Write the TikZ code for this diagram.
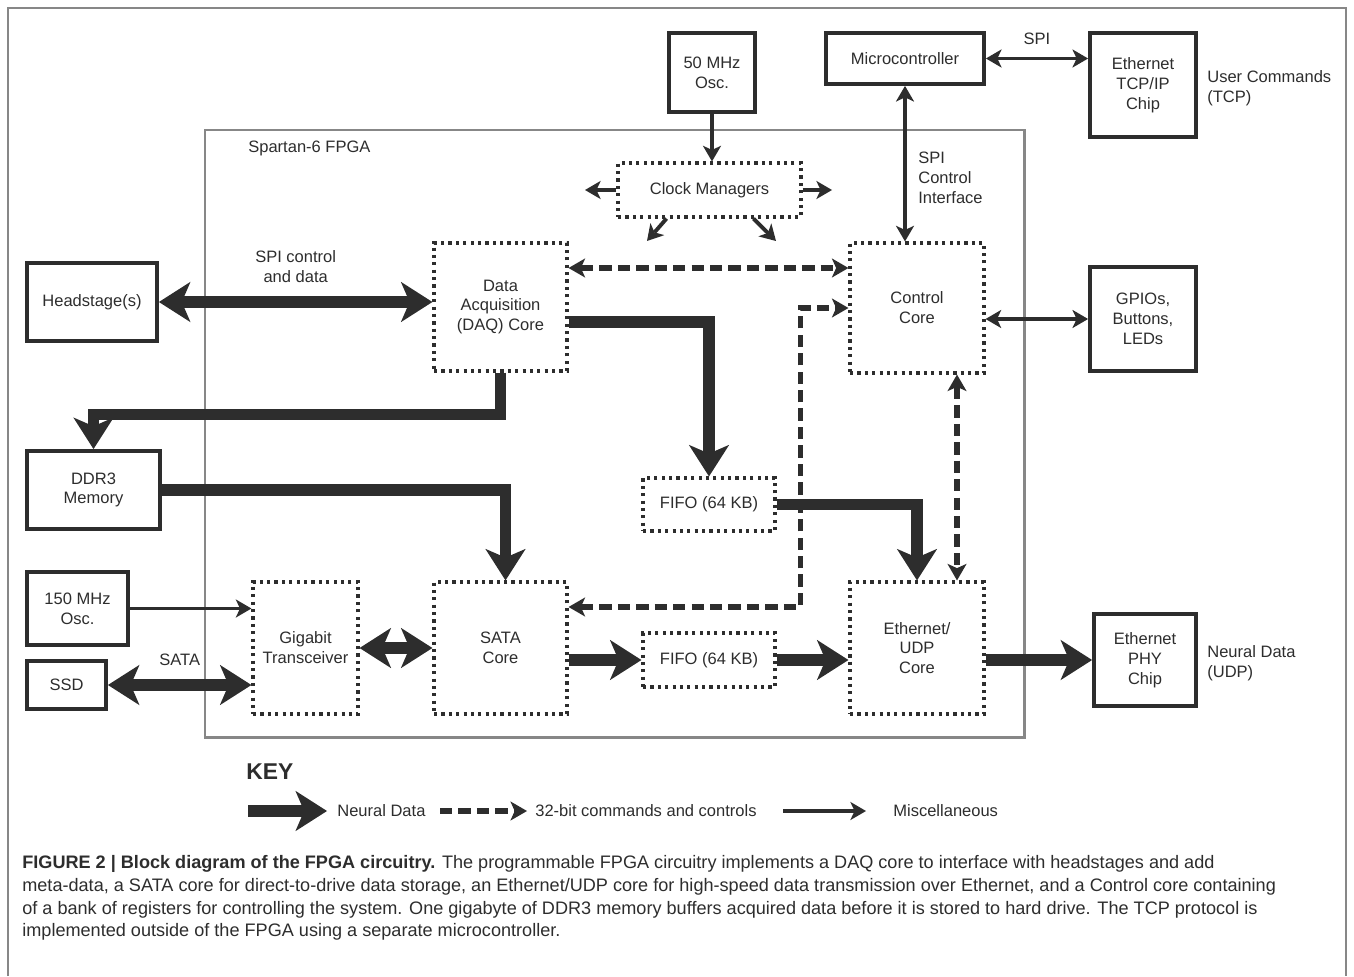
\documentclass[tikz,border=0pt]{standalone}
\usepackage{fontspec}
\setmainfont{Liberation Sans}
\usepackage{tikz}
\usetikzlibrary{arrows.meta,positioning,calc}
\definecolor{ink}{RGB}{45,45,45}
\definecolor{framegray}{RGB}{135,135,135}

\begin{document}
\begin{tikzpicture}[
    x=0.02cm, y=-0.02cm,
    font=\fontsize{9.4}{11.3}\selectfont,
    block/.style={rectangle, draw=ink, line width=2.2pt, text=ink, align=center, inner sep=0pt},
    core/.style={rectangle, draw=ink, line width=1.8pt, dash pattern=on 1.8pt off 2.4pt, text=ink, align=center, inner sep=0pt},
    lbl/.style={text=ink, inner sep=0pt},
    neural/.style={draw=ink, line width=6.5pt, >={Stealth[length=18pt, width=23pt, inset=5pt, line width=0pt]}},
    cmd/.style={draw=ink, line width=3.2pt, dash pattern=on 7pt off 3.5pt, >={Stealth[length=9.5pt, width=11pt, inset=2.5pt, line width=0pt]}},
    misc/.style={draw=ink, line width=2.2pt, >={Stealth[length=9pt, width=10.5pt, inset=2.5pt, line width=0pt]}}
]
    \useasboundingbox (0,0) rectangle (1354,976);
    \draw[framegray, line width=1pt] (8,976) -- (8,8) -- (1346,8) -- (1346,976);

    % FPGA outline
    \draw[framegray, line width=1.7pt] (205,130) rectangle (1024,737);
    \node[lbl, anchor=west] (fpgalbl) at (248,148) {Spartan-6 FPGA};

    % outside parts
    \node[block, minimum width=1.72cm, minimum height=1.58cm] (osc50) at (712,72.5) {50 MHz\\Osc.};
    \node[block, minimum width=3.16cm, minimum height=1.02cm] (micro) at (905,58.5) {Microcontroller};
    \node[block, minimum width=2.12cm, minimum height=2.08cm] (tcpchip) at (1143,85) {Ethernet\\TCP/IP\\Chip};
    \node[block, minimum width=2.60cm, minimum height=1.56cm] (head) at (92,302) {Headstage(s)};
    \node[block, minimum width=2.12cm, minimum height=2.08cm] (gpio) at (1143,319) {GPIOs,\\Buttons,\\LEDs};
    \node[block, minimum width=2.66cm, minimum height=1.56cm] (ddr) at (93.5,490) {DDR3\\Memory};
    \node[block, minimum width=2.02cm, minimum height=1.46cm] (osc150) at (77.5,608.5) {150 MHz\\Osc.};
    \node[block, minimum width=1.58cm, minimum height=0.96cm] (ssd) at (66.5,685) {SSD};
    \node[block, minimum width=2.04cm, minimum height=1.84cm] (phy) at (1145,660) {Ethernet\\PHY\\Chip};

    % cores inside the FPGA
    \node[core, minimum width=3.66cm, minimum height=1.08cm] (clk) at (709.5,190) {Clock Managers};
    \node[core, minimum width=2.66cm, minimum height=2.56cm] (daq) at (500.5,307) {Data\\Acquisition\\(DAQ) Core};
    \node[core, minimum width=2.68cm, minimum height=2.60cm] (ctrl) at (917,308) {Control\\Core};
    \node[core, minimum width=2.64cm, minimum height=1.06cm] (fifo1) at (709,504.5) {FIFO (64 KB)};
    \node[core, minimum width=2.10cm, minimum height=2.64cm] (gtx) at (305.5,648) {Gigabit\\Transceiver};
    \node[core, minimum width=2.66cm, minimum height=2.64cm] (sata) at (500.5,648) {SATA\\Core};
    \node[core, minimum width=2.64cm, minimum height=1.08cm] (fifo2) at (709,660) {FIFO (64 KB)};
    \node[core, minimum width=2.68cm, minimum height=2.64cm] (eth) at (917,648) {Ethernet/\\UDP\\Core};

    % side labels
    \node[lbl, align=left, anchor=west] (usercmd) at (1207,88) {User Commands\\(TCP)};
    \node[lbl, align=left, anchor=west] (udplbl) at (1207,663) {Neural Data\\(UDP)};
    \node[lbl, align=left, anchor=west] (spictl) at (918,178) {SPI\\Control\\Interface};

    % clock outputs
    \coordinate (clkL) at (585,190);
    \coordinate (clkR) at (832,190);
    \coordinate (clkDL) at (647,241);
    \coordinate (clkDR) at (776,241);
    \draw[misc, ->] (osc50.south) -- (osc50.south |- clk.north);
    \draw[misc, ->] (clk.west) -- (clkL);
    \draw[misc, ->] (clk.east) -- (clkR);
    \draw[misc, ->] ($(clk.south)+(-43,0)$) -- (clkDL);
    \draw[misc, ->] ($(clk.south)+(44,0)$) -- (clkDR);

    % misc links
    \draw[misc, <->] (micro.east) -- (micro.east -| tcpchip.west)
        node[lbl, midway, above=7pt] (spilbl) {SPI};
    \draw[misc, <->] (micro.south) -- (micro.south |- ctrl.north);
    \draw[misc, <->] (gpio.west |- 0,319) -- (ctrl.east |- 0,319);
    \draw[misc, ->] (osc150.east) -- (osc150.east -| gtx.west);

    % neural data paths
    \draw[neural, <->] (head.east) -- (head.east -| daq.west)
        node[lbl, midway, above=8pt, align=center] (spidata) {SPI control\\and data};
    \draw[neural, <->] (ssd.east) -- (ssd.east -| gtx.west)
        node[lbl, midway, above=8pt] (satalbl) {SATA};
    \draw[neural, <->] (gtx) -- (sata);
    \draw[neural, ->] ($(daq.east)+(0,15)$) -| (fifo1.north);
    \draw[neural, ->] (daq.south) -- ++(0,42) -| (ddr.north);
    \draw[neural, ->] (ddr.east) -| ($(sata.north)+(5,0)$);
    \draw[neural, ->] (sata.east |- fifo2.west) -- (fifo2.west);
    \draw[neural, ->] (fifo2.east) -- (fifo2.east -| eth.west);
    \draw[neural, ->] (fifo1.east) -| (eth.north);
    \draw[neural, ->] (eth.east |- phy.west) -- (phy.west);

    % command paths
    \draw[cmd, <->] ($(daq.east)+(0,-39)$) -- ($(ctrl.west)+(0,-40)$);
    \draw[cmd, <->] ($(ctrl.south)+(40,0)$) -- ($(eth.north)+(40,0)$);
    \draw[cmd, <->] ($(sata.east)+(0,-41)$) -| ($(ctrl.west)+(-48,0)$) -- (ctrl.west);

    % key
    \node[lbl, anchor=west, font=\bfseries\fontsize{13}{15}\selectfont] (key) at (246,772) {KEY};
    \coordinate (k1a) at (248,811);
    \coordinate (k1b) at (327,811);
    \coordinate (k2a) at (440,811);
    \coordinate (k2b) at (527,811);
    \coordinate (k3a) at (783,811);
    \coordinate (k3b) at (866,811);
    \draw[neural, ->] (k1a) -- (k1b);
    \node[lbl, anchor=west] (k1t) at (337,811) {Neural Data};
    \draw[cmd, ->] (k2a) -- (k2b);
    \node[lbl, anchor=west] (k2t) at (535,811) {32-bit commands and controls};
    \draw[misc, ->] (k3a) -- (k3b);
    \node[lbl, anchor=west] (k3t) at (893,811) {Miscellaneous};

    % caption
    \node[lbl, anchor=north west, align=left, font=\fontsize{10.3}{13}\selectfont] (caption) at (22,855)
        {\textbf{FIGURE 2 | Block diagram of the FPGA circuitry.} The programmable FPGA circuitry implements a DAQ core to interface with headstages and add\\
         meta-data, a SATA core for direct-to-drive data storage, an Ethernet/UDP core for high-speed data transmission over Ethernet, and a Control core containing\\
         of a bank of registers for controlling the system. One gigabyte of DDR3 memory buffers acquired data before it is stored to hard drive. The TCP protocol is\\
         implemented outside of the FPGA using a separate microcontroller.};
\end{tikzpicture}
\end{document}
